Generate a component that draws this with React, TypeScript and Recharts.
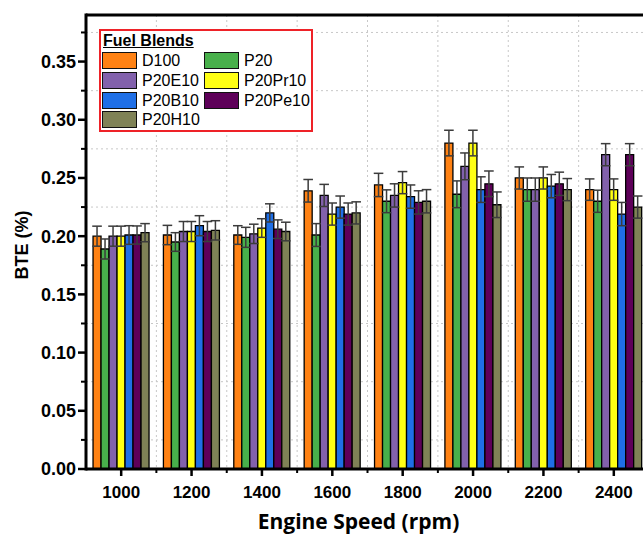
import React from "react";
import {
  BarChart,
  Bar,
  ErrorBar,
  XAxis,
  YAxis,
  CartesianGrid,
  ReferenceLine,
} from "recharts";

// engine speeds (rpm)
const speeds = ["1000", "1200", "1400", "1600", "1800", "2000", "2200", "2400"];

// brake thermal efficiency per blend
const d100 = [0.2, 0.201, 0.201, 0.239, 0.244, 0.28, 0.25, 0.24];
const p20 = [0.189, 0.195, 0.199, 0.201, 0.23, 0.236, 0.24, 0.23];
const p20e10 = [0.2, 0.204, 0.202, 0.235, 0.235, 0.26, 0.24, 0.27];
const p20pr10 = [0.2, 0.204, 0.207, 0.219, 0.246, 0.28, 0.25, 0.24];
const p20b10 = [0.201, 0.209, 0.22, 0.225, 0.234, 0.24, 0.243, 0.219];
const p20pe10 = [0.201, 0.204, 0.206, 0.219, 0.229, 0.245, 0.245, 0.27];
const p20h10 = [0.203, 0.205, 0.204, 0.22, 0.23, 0.227, 0.24, 0.225];

// error bar half-widths
const d100Err = [0.0086, 0.0083, 0.008, 0.0097, 0.01, 0.011, 0.0095, 0.0092];
const p20Err = [0.0086, 0.008, 0.0086, 0.0098, 0.0098, 0.0115, 0.01, 0.0095];
const p20e10Err = [0.0086, 0.0086, 0.0083, 0.0095, 0.01, 0.0115, 0.01, 0.0095];
const p20pr10Err = [0.0086, 0.0086, 0.008, 0.0095, 0.0095, 0.011, 0.0095, 0.0092];
const p20b10Err = [0.008, 0.0086, 0.0078, 0.0095, 0.01, 0.011, 0.01, 0.01];
const p20pe10Err = [0.0078, 0.0086, 0.008, 0.0095, 0.01, 0.011, 0.01, 0.0095];
const p20h10Err = [0.0078, 0.0083, 0.008, 0.0095, 0.01, 0.011, 0.0095, 0.0095];

// even entries are labelled, odd ones are minor ticks (and carry the grid)
const yTicks = [
  0, 0.025, 0.05, 0.075, 0.1, 0.125, 0.15, 0.175, 0.2, 0.225, 0.25, 0.275, 0.3,
  0.325, 0.35, 0.375,
];
const Y_MAX = 0.39;

const blends = [
  { name: "D100", color: "#ff8214", values: d100, errors: d100Err },
  { name: "P20", color: "#48b04b", values: p20, errors: p20Err },
  { name: "P20E10", color: "#8261ac", values: p20e10, errors: p20e10Err },
  { name: "P20Pr10", color: "#ffff14", values: p20pr10, errors: p20pr10Err },
  { name: "P20B10", color: "#1f6fe6", values: p20b10, errors: p20b10Err },
  { name: "P20Pe10", color: "#5e0059", values: p20pe10, errors: p20pe10Err },
  { name: "P20H10", color: "#7f8256", values: p20h10, errors: p20h10Err },
];

const rows = speeds.map((speed, i) => {
  const row: Record<string, string | number> = { speed };
  blends.forEach((b) => {
    row[b.name] = b.values[i];
    row[b.name + "Err"] = b.errors[i];
  });
  return row;
});

// plot box inside the chart svg
const PLOT = { left: 86, top: 15, width: 563, height: 454 };
const CHART_W = 700;
const CHART_H = 535;

const FONT = "'Liberation Sans', Arial, sans-serif";

function YTick(props: any) {
  const { x, y, payload, index } = props;
  if (index % 2 !== 0) return <g />;
  return (
    <text
      x={x - 10}
      y={y}
      dy="0.355em"
      textAnchor="end"
      fill="#000"
      fontSize={18}
      fontWeight="bold"
      fontFamily={FONT}
    >
      {Number(payload.value).toFixed(2)}
    </text>
  );
}

function XTick(props: any) {
  const { x, y, payload } = props;
  return (
    <text
      x={x}
      y={y + 29}
      textAnchor="middle"
      fill="#000"
      fontSize={17}
      fontWeight="bold"
      fontFamily={FONT}
    >
      {payload.value}
    </text>
  );
}

// dotted grid sits on the minor ticks and on the band edges
const gridRows = ({ yAxis, offset }: any) =>
  yTicks
    .filter((_, i) => i % 2 === 1)
    .map((v) =>
      yAxis && typeof yAxis.scale === "function"
        ? yAxis.scale(v)
        : offset.top + offset.height * (1 - v / Y_MAX)
    );
const gridCols = ({ offset }: any) =>
  speeds.slice(1).map((_, i) => offset.left + (offset.width * (i + 1)) / speeds.length);

// left frame edge plus the outward tick marks on both axes
function AxisMarks() {
  const band = PLOT.width / speeds.length;
  const bottom = PLOT.top + PLOT.height;
  return (
    <svg
      width={643}
      height={CHART_H}
      style={{ position: "absolute", left: 0, top: 0, pointerEvents: "none" }}
    >
      <line
        x1={PLOT.left}
        x2={PLOT.left}
        y1={PLOT.top - 1.5}
        y2={bottom + 1.5}
        stroke="#000"
        strokeWidth={3}
      />
      {yTicks.map((v, i) => {
        const y = PLOT.top + PLOT.height * (1 - v / Y_MAX);
        const major = i % 2 === 0;
        return (
          <line
            key={"y" + i}
            x1={PLOT.left}
            x2={PLOT.left - (major ? 8 : 5)}
            y1={y}
            y2={y}
            stroke="#000"
            strokeWidth={major ? 2.5 : 2}
          />
        );
      })}
      {speeds.map((s, i) => {
        const cx = PLOT.left + (i + 0.5) * band;
        const edge = PLOT.left + i * band;
        return (
          <g key={"x" + s}>
            <line x1={cx} x2={cx} y1={bottom} y2={bottom + 7} stroke="#000" strokeWidth={2.5} />
            {i > 0 && (
              <line x1={edge} x2={edge} y1={bottom} y2={bottom + 4} stroke="#000" strokeWidth={2} />
            )}
          </g>
        );
      })}
    </svg>
  );
}

function FuelLegend() {
  return (
    <div
      style={{
        position: "absolute",
        left: 99,
        top: 29,
        width: 214,
        height: 103,
        boxSizing: "border-box",
        border: "2px solid #ee2228",
        fontFamily: FONT,
        background: "#fff",
      }}
    >
      <div
        style={{
          position: "absolute",
          left: 2,
          top: 2,
          fontSize: 16,
          lineHeight: "16px",
          fontWeight: "bold",
          textDecoration: "underline",
        }}
      >
        Fuel Blends
      </div>
      {blends.map((b, i) => {
        const row = Math.floor(i / 2);
        const col = i % 2;
        return (
          <div
            key={b.name}
            style={{
              position: "absolute",
              left: col === 0 ? 1 : 103,
              top: 21 + row * 19.8,
              display: "flex",
              alignItems: "center",
              height: 17,
            }}
          >
            <div
              style={{
                width: 35,
                height: 17,
                boxSizing: "border-box",
                border: "1.5px solid #111",
                background: b.color,
              }}
            />
            <span style={{ marginLeft: 5, fontSize: 16, lineHeight: "17px" }}>
              {b.name}
            </span>
          </div>
        );
      })}
    </div>
  );
}

export default function App() {
  return (
    <div
      style={{
        position: "absolute",
        left: 0,
        top: 0,
        width: 643,
        height: CHART_H,
        overflow: "hidden",
        background: "#fff",
      }}
    >
      <BarChart
        width={CHART_W}
        height={CHART_H}
        data={rows}
        margin={{
          top: PLOT.top,
          right: CHART_W - PLOT.left - PLOT.width,
          left: 0,
          bottom: 0,
        }}
        barCategoryGap="10%"
        barGap={0}
      >
        <CartesianGrid
          stroke="#c8c8c8"
          strokeDasharray="2 3"
          horizontalCoordinatesGenerator={gridRows}
          verticalCoordinatesGenerator={gridCols}
        />
        {blends.map((b) => (
          <Bar
            key={b.name}
            dataKey={b.name}
            fill={b.color}
            stroke="#000"
            strokeWidth={1.3}
            isAnimationActive={false}
          >
            <ErrorBar
              dataKey={b.name + "Err"}
              width={4.8}
              stroke="#3c3c3c"
              strokeWidth={1.5}
              direction="y"
            />
          </Bar>
        ))}
        <XAxis
          dataKey="speed"
          tickSize={0}
          tickMargin={0}
          tickLine={false}
          height={CHART_H - PLOT.top - PLOT.height}
          interval={0}
          axisLine={{ stroke: "#000", strokeWidth: 3 }}
          tick={<XTick />}
          label={{
            value: "Engine Speed (rpm)",
            position: "insideBottom",
            offset: 6,
            dx: -9,
            style: {
              fill: "#000",
              fontSize: 21,
              fontWeight: "bold",
              fontFamily: "'Open Sans', sans-serif",
            },
          }}
        />
        <YAxis
          domain={[0, Y_MAX]}
          ticks={yTicks}
          interval={0}
          width={PLOT.left}
          tickSize={0}
          tickMargin={0}
          tickLine={false}
          axisLine={false}
          tick={<YTick />}
        />
        {/* top edge of the frame */}
        <ReferenceLine y={Y_MAX} stroke="#000" strokeWidth={3} ifOverflow="visible" />
      </BarChart>
      <AxisMarks />
      <div
        style={{
          position: "absolute",
          left: 22,
          top: 245,
          transform: "translate(-50%, -50%) rotate(-90deg)",
          whiteSpace: "nowrap",
          fontFamily: FONT,
          fontWeight: "bold",
          fontSize: 18,
        }}
      >
        BTE (%)
      </div>
      <FuelLegend />
    </div>
  );
}
